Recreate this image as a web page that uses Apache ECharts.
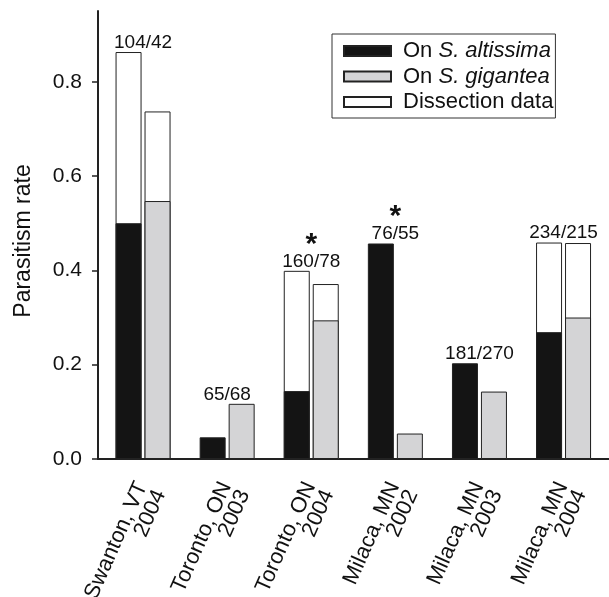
<!DOCTYPE html>
<html>
<head>
<meta charset="utf-8">
<script src="https://cdn.jsdelivr.net/npm/echarts@6/dist/echarts.min.js"></script>
<style>html,body{margin:0;padding:0;background:#fff}#c{width:609px;height:597px}</style>
</head>
<body>
<div id="c"></div>
<script>
var sites = ["Swanton, VT\n2004", "Toronto, ON\n2003", "Toronto, ON\n2004", "Milaca, MN\n2002", "Milaca, MN\n2003", "Milaca, MN\n2004"];
var onAltissima = [0.500, 0.046, 0.144, 0.457, 0.203, 0.269];
var onGigantea = [0.547, 0.117, 0.294, 0.054, 0.143, 0.300];
var dissectionAltissima = [0.863, null, 0.399, null, null, 0.459];
var dissectionGigantea = [0.737, null, 0.371, null, null, 0.458];
var sampleSizes = ["104/42", "65/68", "160/78", "76/55", "181/270", "234/215"];
var significant = [false, false, true, true, false, false];
var yTicks = [0, 0.2, 0.4, 0.6, 0.8];

var FONT = "Liberation Sans, Arial, Helvetica, sans-serif";
var YMAX = 0.95;

var labelData = sites.map(function (s, i) {
  var top = Math.max(onAltissima[i], onGigantea[i], dissectionAltissima[i] || 0, dissectionGigantea[i] || 0);
  return {
    value: [i, top],
    label: {
      formatter: significant[i] ? '{s|*}\n{n|' + sampleSizes[i] + '}' : '{n|' + sampleSizes[i] + '}'
    }
  };
});

var barCommon = { barWidth: 26, barGap: '11.5%' };

var chart = echarts.init(document.getElementById('c'), null, { renderer: 'canvas' });
chart.setOption({
  animation: false,
  textStyle: { fontFamily: FONT },
  grid: [
    { left: 101, width: 504.6, top: 11, bottom: 138, containLabel: false, outerBoundsMode: 'none' },
    { left: 98, right: 0, top: 11, bottom: 138, containLabel: false, outerBoundsMode: 'none' },
    { left: 109, width: 504.6, top: 11, bottom: 138, containLabel: false, outerBoundsMode: 'none' }
  ],
  xAxis: [
    {
      type: 'category', gridIndex: 0, data: sites, boundaryGap: true,
      axisLine: { show: false }, axisTick: { show: false }, axisLabel: { show: false }
    },
    { type: 'category', gridIndex: 0, data: sites, show: false },
    {
      type: 'value', gridIndex: 1, min: 0, max: 1,
      axisLine: { show: true, lineStyle: { color: '#222', width: 2 } },
      axisTick: { show: false }, axisLabel: { show: false }, splitLine: { show: false }
    },
    {
      type: 'category', gridIndex: 2, data: sites, boundaryGap: true,
      axisLine: { show: false }, axisTick: { show: false },
      axisLabel: {
        rotate: 66, margin: 28, fontSize: 22, color: '#111', fontFamily: FONT,
        lineHeight: 20, interval: 0
      }
    }
  ],
  yAxis: [
    { type: 'value', gridIndex: 0, min: 0, max: YMAX, show: false, splitLine: { show: false } },
    {
      type: 'value', gridIndex: 1, min: 0, max: YMAX, interval: 0.2,
      name: 'Parasitism rate', nameLocation: 'middle', nameGap: 63, nameRotate: 90,
      nameTextStyle: { fontSize: 23, color: '#111', fontFamily: FONT, padding: [0, 12, 0, 0] },
      axisLine: { show: true, lineStyle: { color: '#222', width: 2 } },
      axisTick: { show: true, inside: false, length: 6, lineStyle: { color: '#222', width: 1.5 }, customValues: yTicks },
      axisLabel: {
        customValues: yTicks, margin: 16, fontSize: 21, color: '#111', fontFamily: FONT,
        formatter: function (v) { return v.toFixed(1); }
      },
      splitLine: { show: false }
    },
    { type: 'value', gridIndex: 2, min: 0, max: YMAX, show: false, splitLine: { show: false } }
  ],
  legend: {
    orient: 'vertical', left: 332, top: 34,
    data: ['On S. altissima', 'On S. gigantea', 'Dissection data'],
    icon: 'rect', itemWidth: 47, itemHeight: 10, itemGap: 3.5,
    padding: [6, 2, 5, 11],
    borderColor: '#333', borderWidth: 1, borderRadius: 0,
    selectedMode: false,
    formatter: function (name) {
      if (name === 'On S. altissima') return '{g|}{n|On }{i|S. altissima}';
      if (name === 'On S. gigantea') return '{g|}{n|On }{i|S. gigantea}';
      return '{g|}{n|' + name + '}';
    },
    textStyle: {
      fontFamily: FONT, fontSize: 22, color: '#111', lineHeight: 22,
      rich: {
        g: { width: 7, lineHeight: 22 },
        n: { fontFamily: FONT, fontSize: 22, color: '#111', lineHeight: 22 },
        i: { fontFamily: FONT, fontSize: 22, color: '#111', fontStyle: 'italic', lineHeight: 22 }
      }
    }
  },
  series: [
    Object.assign({
      name: 'Dissection data', type: 'bar', xAxisIndex: 1, yAxisIndex: 0, z: 1,
      data: dissectionAltissima,
      itemStyle: { color: '#ffffff', borderColor: '#222', borderWidth: 1 }
    }, barCommon),
    Object.assign({
      name: 'Dissection data', type: 'bar', xAxisIndex: 1, yAxisIndex: 0, z: 1,
      data: dissectionGigantea,
      itemStyle: { color: '#ffffff', borderColor: '#222', borderWidth: 1 }
    }, barCommon),
    Object.assign({
      name: 'On S. altissima', type: 'bar', xAxisIndex: 0, yAxisIndex: 0, z: 3,
      data: onAltissima,
      itemStyle: { color: '#141414', borderColor: '#222', borderWidth: 1 }
    }, barCommon),
    Object.assign({
      name: 'On S. gigantea', type: 'bar', xAxisIndex: 0, yAxisIndex: 0, z: 3,
      data: onGigantea,
      itemStyle: { color: '#d4d4d6', borderColor: '#222', borderWidth: 1 }
    }, barCommon),
    {
      name: 'labels', type: 'scatter', xAxisIndex: 0, yAxisIndex: 0, z: 5,
      symbolSize: 0, silent: true,
      itemStyle: { color: '#111', opacity: 1 },
      data: labelData,
      label: {
        show: true, position: 'top', distance: 0, align: 'center', color: '#111',
        rich: {
          n: { fontFamily: FONT, fontSize: 19, color: '#111', lineHeight: 19 },
          s: { fontFamily: FONT, fontSize: 30, fontWeight: 'bold', color: '#111', lineHeight: 20, padding: [0, 0, -5, 0] }
        }
      }
    }
  ]
});
</script>
</body>
</html>
